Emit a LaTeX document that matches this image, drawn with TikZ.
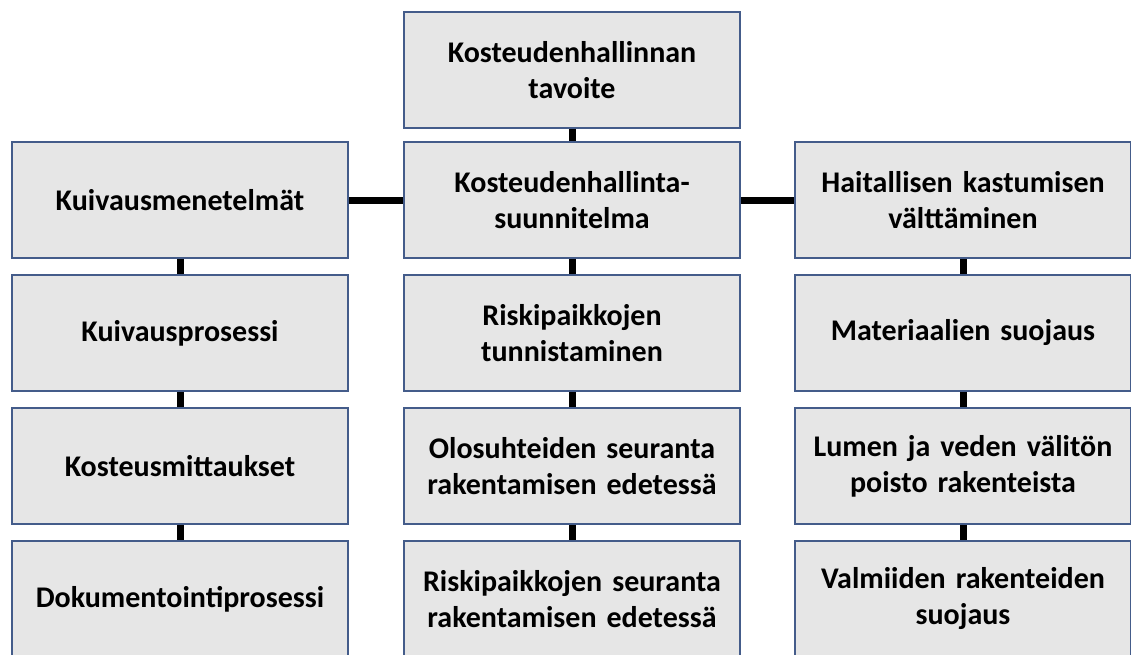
\documentclass[tikz,border=0pt]{standalone}
\usepackage{fontspec}
\setmainfont{Carlito}
\definecolor{boxline}{RGB}{68,92,138}
\definecolor{boxfill}{RGB}{230,230,230}
\begin{document}
\begin{tikzpicture}[x=1pt,y=-1pt,
  box/.style={draw=boxline, line width=2pt, fill=boxfill, minimum width=336pt, minimum height=116pt,
    inner sep=0pt, align=center, text width=330pt,
    font=\fontsize{30pt}{36pt}\selectfont\bfseries},
  link/.style={line width=7pt, draw=black}]
\useasboundingbox (0,0) rectangle (1131,655);
\clip (0,0) rectangle (1131,655);
\fill[white] (0,0) rectangle (1131,655);
% middle column
\node[box] (m0) at (572,70) {Kosteudenhallinnan\\tavoite};
\node[box] (m1) at (572,200) {Kosteudenhallinta-\\suunnitelma};
\node[box] (m2) at (572,333) {Riskipaikkojen\\tunnistaminen};
\node[box] (m3) at (572,466) {Olosuhteiden seuranta\\rakentamisen edetessä};
\node[box] (m4) at (572,599) {Riskipaikkojen seuranta\\rakentamisen edetessä};
% left column
\node[box] (l1) at (180,200) {Kuivausmenetelmät};
\node[box] (l2) at (180,333) {Kuivausprosessi};
\node[box] (l3) at (180,466) {Kosteusmittaukset};
\node[box] (l4) at (180,599) {Dokumentointiprosessi};
% right column
\node[box] (r1) at (963,200) {Haitallisen kastumisen\\välttäminen};
\node[box] (r2) at (963,333) {Materiaalien suojaus};
\node[box] (r3) at (963,466) {Lumen ja veden välitön\\poisto rakenteista};
\node[box] (r4) at (963,599) {Valmiiden rakenteiden\\suojaus};
% connectors
\draw[link] (m0.south) -- (m1.north);
\draw[link] (m1.south) -- (m2.north);
\draw[link] (m2.south) -- (m3.north);
\draw[link] (m3.south) -- (m4.north);
\draw[link] (l1.south) -- (l2.north);
\draw[link] (l2.south) -- (l3.north);
\draw[link] (l3.south) -- (l4.north);
\draw[link] (r1.south) -- (r2.north);
\draw[link] (r2.south) -- (r3.north);
\draw[link] (r3.south) -- (r4.north);
\draw[link] (l1.east) -- (m1.west);
\draw[link] (m1.east) -- (r1.west);
\end{tikzpicture}
\end{document}
